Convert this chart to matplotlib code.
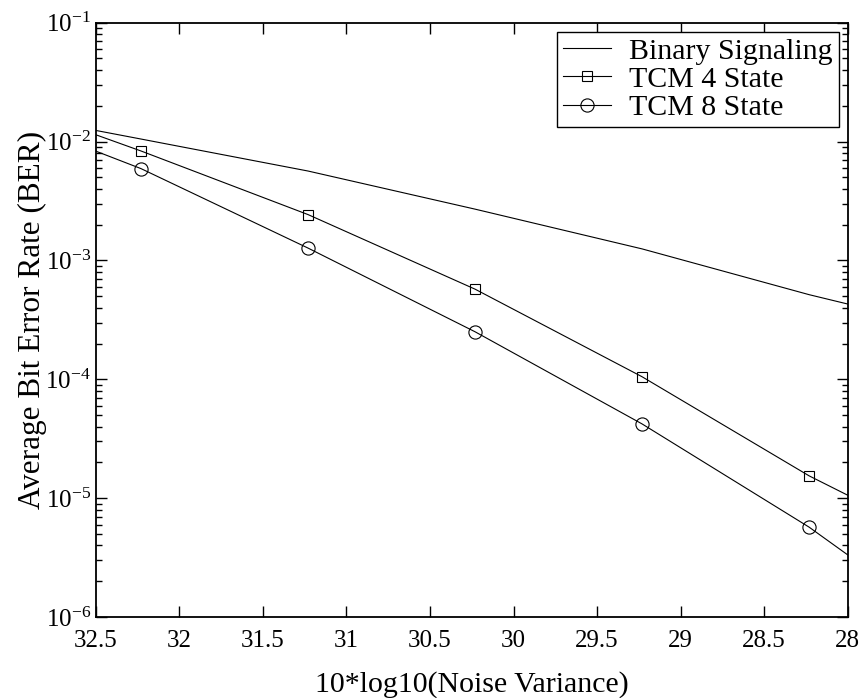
"""
BER vs noise variance for binary signaling and TCM (4 / 8 state)
"""

import matplotlib
matplotlib.use('Agg')
import matplotlib.pyplot as plt
from matplotlib.ticker import LogLocator, FixedLocator

plt.rcParams['font.family'] = ['Liberation Serif', 'DejaVu Serif']
plt.rcParams['mathtext.fontset'] = 'custom'
plt.rcParams['mathtext.rm'] = 'Liberation Serif'
plt.rcParams['mathtext.it'] = 'Liberation Serif:italic'

# data (first / last point are the curve values at the axis edges, no marker)
noise_db = [32.5, 32.23, 31.23, 30.23, 29.23, 28.23, 28.0]
ber_binary = [1.24e-2, 1.05e-2, 5.65e-3, 2.7e-3, 1.25e-3, 5.15e-4, 4.3e-4]
ber_tcm4 = [1.14e-2, 8.33e-3, 2.43e-3, 5.73e-4, 1.05e-4, 1.54e-5, 1.06e-5]
ber_tcm8 = [8.3e-3, 5.92e-3, 1.27e-3, 2.51e-4, 4.21e-5, 5.7e-6, 3.34e-6]
series_labels = ['Binary Signaling', 'TCM 4 State', 'TCM 8 State']
x_ticks = [32.5, 32, 31.5, 31, 30.5, 30, 29.5, 29, 28.5, 28]
x_ticklabels = ['32.5', '32', '31.5', '31', '30.5', '30', '29.5', '29', '28.5', '28']

fig = plt.figure(figsize=(8.64, 6.98), dpi=100)
ax = fig.add_axes([0.111, 0.116, 0.870, 0.8515])

marks = [1, 2, 3, 4, 5]
ax.semilogy(noise_db, ber_binary, color='black', lw=0.8, label=series_labels[0])
ax.semilogy(noise_db, ber_tcm4, color='black', lw=0.8, marker='s', ms=7.5,
            mfc='none', mew=0.8, markevery=marks, label=series_labels[1])
ax.semilogy(noise_db, ber_tcm8, color='black', lw=0.8, marker='o', ms=9.5,
            mfc='none', mew=0.8, markevery=marks, label=series_labels[2])

ax.set_xlim(32.5, 28)
ax.set_ylim(1e-6, 1e-1)
ax.xaxis.set_major_locator(FixedLocator(x_ticks))
ax.set_xticklabels(x_ticklabels)
ax.yaxis.set_major_locator(LogLocator(base=10, numticks=10))
ax.yaxis.set_minor_locator(LogLocator(base=10, subs=range(2, 10), numticks=20))

ax.tick_params(which='both', direction='in', top=True, right=True,
               labelsize=18, width=1)
ax.tick_params(which='major', length=8)
ax.tick_params(which='minor', length=4)
ax.tick_params(axis='x', pad=9)
for s in ax.spines.values():
    s.set_linewidth(1.3)

ax.set_xlabel('10*log10(Noise Variance)', fontsize=21.5, labelpad=14)
ax.set_ylabel('Average Bit Error Rate (BER)', fontsize=22.5, labelpad=-1)

leg = ax.legend(loc='upper right', fontsize=21.5, frameon=True, fancybox=False,
                edgecolor='black', framealpha=1, handlelength=1.6,
                borderpad=0.2, labelspacing=0.05, handletextpad=0.6,
                borderaxespad=0.3)
leg.get_frame().set_linewidth(1.0)
for h in leg.legend_handles:
    h.set_markevery([1])

plt.savefig('out.png', dpi=100)
